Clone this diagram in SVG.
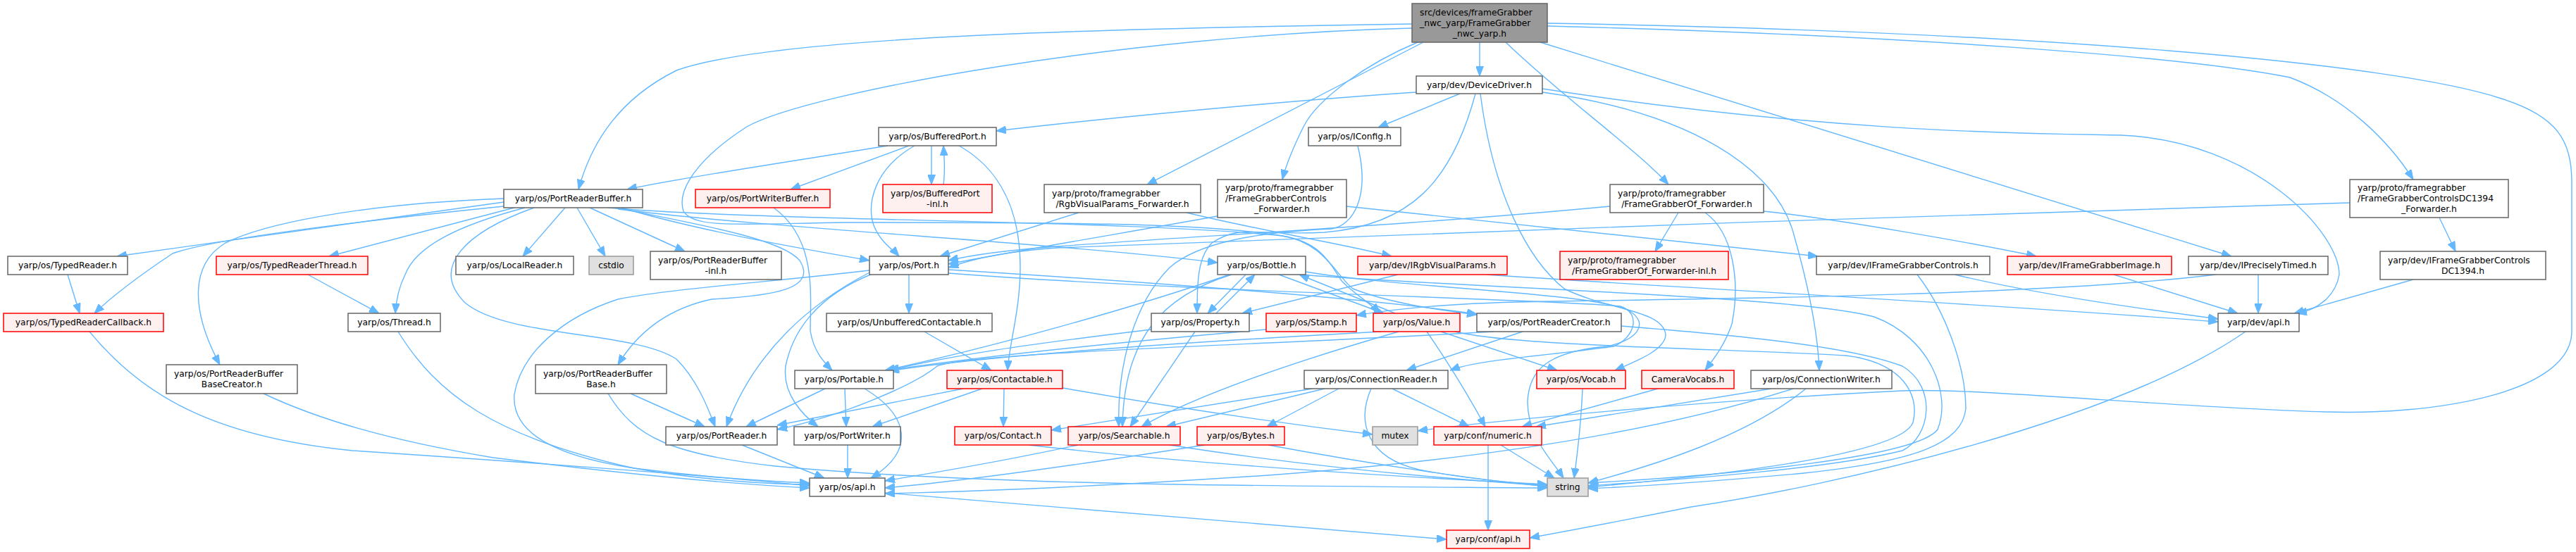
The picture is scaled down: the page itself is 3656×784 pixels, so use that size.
<svg xmlns="http://www.w3.org/2000/svg" width="3656" height="784" viewBox="0 0 3656 784">
<defs>
<marker id="arr" viewBox="0 0 14 11" refX="14" refY="5.5" markerWidth="14" markerHeight="11" markerUnits="userSpaceOnUse" orient="auto"><path d="M0,0 L14,5.5 L0,11 z" fill="#63B8FF" stroke="#63B8FF" stroke-width="1"/></marker>
</defs>
<style>
.node rect{fill:#ffffff;stroke:#666666;stroke-width:1.5}
.red rect{fill:#FFF0F0;stroke:#FF0000}
.ext rect{fill:#E0E0E0;stroke:#999999}
.root rect{fill:#999999;stroke:#666666}
text{font-family:"DejaVu Sans","Liberation Sans",sans-serif;font-size:12.3px;fill:#000000;text-anchor:middle}
text.l{text-anchor:start}
#edges path{fill:none;stroke:#63B8FF;stroke-width:1.4;marker-end:url(#arr)}
</style>
<rect width="3656" height="784" fill="#ffffff"/>
<g id="edges">
<path d="M2100,60 L2100,108"/>
<path d="M2004,34 C1600,40 1100,50 960,100 C880,140 840,200 821,269"/>
<path d="M2004,40 C1600,50 1150,130 1060,180 C990,225 960,270 970,300 C985,325 1050,318 1200,316 C1450,316 1700,315 1820,335 C1880,345 1890,380 1905,400 C1925,420 1945,430 1958,445"/>
<path d="M2020,60 L1628,262"/>
<path d="M2012,60 C1940,90 1870,140 1850,180 C1835,210 1825,235 1820,255"/>
<path d="M2137,60 C2220,140 2320,210 2368,262"/>
<path d="M2186,60 L3167,364"/>
<path d="M2196,37 C2700,50 3100,80 3250,110 C3330,140 3390,200 3425,255"/>
<path d="M2196,33 C2900,45 3400,90 3550,140 C3630,165 3650,200 3650,260 L3650,470 C3650,560 3450,590 3300,585 C3100,580 2800,550 2700,555 C2400,570 2100,600 2012,612"/>
<path d="M2072,133 L1956,181"/>
<path d="M2010,131 C1800,145 1550,170 1414,186"/>
<path d="M2094,133 C2060,260 2000,320 1880,330 C1780,335 1760,318 1720,345 C1700,365 1699,400 1699,445"/>
<path d="M2101,133 C2120,280 2170,370 2220,410 C2280,440 2360,440 2364,475 C2364,495 2330,510 2292,526"/>
<path d="M2189,126 C2600,190 2900,190 3010,192 C3200,200 3320,330 3320,390 C3315,420 3290,440 3260,445"/>
<path d="M2189,131 C2400,160 2520,240 2545,330 C2565,400 2580,470 2582,526"/>
<path d="M1260,207 C1150,225 950,255 890,269"/>
<path d="M1290,207 L1122,269"/>
<path d="M1298,207 C1240,240 1230,290 1240,320 C1250,345 1268,355 1276,364"/>
<path d="M1322,207 L1322,262"/>
<path d="M1339,262 C1342,240 1340,225 1339,207"/>
<path d="M1361,207 C1420,240 1448,300 1448,380 C1448,440 1432,490 1430,526"/>
<path d="M1098,295 C1160,340 1150,420 1150,470 C1155,500 1170,515 1181,526"/>
<path d="M715,287 L166,364"/>
<path d="M715,293 C500,315 300,340 245,360 C200,390 160,420 134,445"/>
<path d="M715,282 C500,290 370,320 320,345 C270,375 270,440 312,518"/>
<path d="M730,295 L467,364"/>
<path d="M745,295 C650,320 590,350 575,390 C565,410 562,430 561,445"/>
<path d="M802,295 L742,364"/>
<path d="M819,295 L859,364"/>
<path d="M837,295 L972,357"/>
<path d="M758,295 C660,330 610,380 660,430 C720,480 900,470 960,510 C990,540 1005,580 1015,606"/>
<path d="M873,295 C1000,320 1110,340 1135,370 C1160,410 1100,420 1010,425 C940,440 900,480 877,518"/>
<path d="M882,295 C1000,330 1150,355 1234,370"/>
<path d="M877,297 C1100,325 1500,345 1728,373"/>
<path d="M863,295 C1100,315 1600,312 1820,335 C1880,345 1895,390 1920,410 C1970,430 2040,440 2096,447"/>
<path d="M96,390 L113,445"/>
<path d="M437,390 L538,445"/>
<path d="M127,471 C200,560 300,620 500,640 C800,660 1000,675 1149,690"/>
<path d="M374,559 C450,595 550,625 700,650 C900,675 1050,688 1149,693"/>
<path d="M565,471 C620,560 700,620 900,665 C1000,683 1100,688 1149,688"/>
<path d="M895,559 L1000,606"/>
<path d="M863,559 C900,620 950,645 1100,662 C1400,690 1800,690 2196,693"/>
<path d="M1290,390 L1290,445"/>
<path d="M1238,389 C1160,420 1125,470 1115,520 C1110,560 1140,590 1161,606"/>
<path d="M1236,386 C1150,430 1070,500 1031,606"/>
<path d="M1234,384 C1100,400 950,410 877,425 C800,450 740,500 730,560 C725,620 800,650 900,665 C1000,678 1100,684 1149,686"/>
<path d="M1346,383 C1700,405 1950,425 2096,446"/>
<path d="M1346,388 C1700,415 2200,425 2300,435 C2330,445 2320,480 2290,492 C2200,505 2100,510 2058,526"/>
<path d="M1312,471 L1407,526"/>
<path d="M1171,552 L1059,606"/>
<path d="M1199,552 L1201,606"/>
<path d="M1227,552 C1290,590 1300,640 1236,679"/>
<path d="M1053,632 L1170,679"/>
<path d="M1203,632 L1203,679"/>
<path d="M1425,552 L1424,606"/>
<path d="M1394,552 L1238,606"/>
<path d="M1367,552 L1103,604"/>
<path d="M1508,551 C1700,585 1850,605 1948,617"/>
<path d="M1460,632 C1700,660 2000,678 2196,688"/>
<path d="M1530,632 C1400,660 1320,672 1256,683"/>
<path d="M1660,632 C1850,662 2050,680 2196,690"/>
<path d="M1710,632 C1500,665 1350,685 1256,693"/>
<path d="M1800,632 C1950,660 2100,682 2196,691"/>
<path d="M1256,700 C1600,730 1900,755 2053,766"/>
<path d="M1634,468 C1450,490 1350,505 1262,526"/>
<path d="M1696,471 L1604,606"/>
<path d="M1726,445 L1781,390"/>
<path d="M1768,390 L1714,445"/>
<path d="M1815,390 L1964,445"/>
<path d="M1980,445 L1844,390"/>
<path d="M1745,390 C1600,440 1400,495 1256,526"/>
<path d="M1748,390 C1650,420 1595,480 1593,606"/>
<path d="M1927,207 C1945,280 1920,320 1890,325 C1780,330 1700,345 1660,380 C1610,430 1585,520 1588,606"/>
<path d="M1985,471 C1850,510 1700,560 1620,606"/>
<path d="M1960,471 C1700,485 1400,505 1262,527"/>
<path d="M1797,468 C1600,485 1400,505 1260,526"/>
<path d="M2045,471 L2210,526"/>
<path d="M2025,471 C2045,500 2075,545 2108,606"/>
<path d="M1853,386 C2000,410 2250,415 2310,440 C2345,460 2320,485 2280,492 C2190,500 2170,530 2168,570 C2168,620 2200,650 2219,679"/>
<path d="M1845,390 C2100,410 2550,420 2660,450 C2740,480 2770,560 2750,610 C2720,650 2450,675 2254,686"/>
<path d="M2301,463 C2450,475 2620,490 2700,520 C2750,550 2740,620 2700,640 C2600,665 2400,680 2254,690"/>
<path d="M2065,471 C2150,492 2450,495 2620,505 C2700,515 2725,560 2715,600 C2700,640 2500,670 2254,692"/>
<path d="M2721,390 C2760,440 2790,520 2790,580 C2785,630 2720,655 2560,672 C2420,685 2300,692 2254,694"/>
<path d="M1984,390 L1763,445"/>
<path d="M2110,390 C2400,410 2800,430 3148,457"/>
<path d="M3145,390 C2900,420 2400,425 2200,428 C2050,430 1970,440 1925,448"/>
<path d="M2774,390 C2900,420 3050,440 3148,453"/>
<path d="M3000,390 L3176,445"/>
<path d="M3205,390 L3205,445"/>
<path d="M3425,397 L3256,445"/>
<path d="M2161,471 L1996,526"/>
<path d="M2120,471 C1800,490 1380,500 1330,520 C1300,545 1200,590 1103,610"/>
<path d="M1863,552 L1492,611"/>
<path d="M1880,552 L1655,606"/>
<path d="M1900,552 L1798,606"/>
<path d="M1976,552 L2085,606"/>
<path d="M1946,552 C1925,600 1940,650 2014,667 C2080,680 2150,686 2196,689"/>
<path d="M2246,552 C2244,600 2238,650 2234,679"/>
<path d="M2353,552 L2160,606"/>
<path d="M2514,552 L2180,606"/>
<path d="M2563,552 C2480,620 2350,660 2254,686"/>
<path d="M2545,552 C2300,630 2000,660 1800,675 C1500,695 1300,700 1256,701"/>
<path d="M2130,632 L2206,679"/>
<path d="M2112,632 L2112,753"/>
<path d="M3187,471 C3000,600 2600,690 2400,720 C2300,740 2220,755 2171,764"/>
<path d="M2382,302 L2349,357"/>
<path d="M2420,302 C2460,330 2470,400 2458,460 C2448,490 2432,510 2420,526"/>
<path d="M2503,300 C2600,310 2800,345 2890,364"/>
<path d="M2285,293 C2000,320 1700,335 1500,350 C1420,356 1380,362 1346,370"/>
<path d="M1728,307 C1600,330 1450,355 1346,375"/>
<path d="M1911,293 L2580,364"/>
<path d="M1531,302 L1334,364"/>
<path d="M1684,302 C1800,330 1900,345 1975,364"/>
<path d="M3335,288 C2800,305 2000,330 1500,352 C1420,358 1380,368 1346,380"/>
<path d="M3462,309 L3485,357"/>
</g>
<g id="n_root" class="node root"><rect x="2004" y="5" width="192" height="55"/><text class="l" x="2015" y="21.8">src/devices/frameGrabber</text><text class="l" x="2015" y="36.8">_nwc_yarp/FrameGrabber</text><text x="2100" y="51.8">_nwc_yarp.h</text></g>
<g id="n_devdriver" class="node"><rect x="2010" y="108" width="179" height="25"/><text x="2099.5" y="124.8">yarp/dev/DeviceDriver.h</text></g>
<g id="n_bufport" class="node"><rect x="1247" y="181" width="167" height="26"/><text x="1330.5" y="198.3">yarp/os/BufferedPort.h</text></g>
<g id="n_iconfig" class="node"><rect x="1857" y="181" width="131" height="26"/><text x="1922.5" y="198.3">yarp/os/IConfig.h</text></g>
<g id="n_prb" class="node"><rect x="715" y="269" width="197" height="26"/><text x="813.5" y="286.3">yarp/os/PortReaderBuffer.h</text></g>
<g id="n_pwb" class="node red"><rect x="987" y="269" width="191" height="26"/><text x="1082.5" y="286.3">yarp/os/PortWriterBuffer.h</text></g>
<g id="n_bpinl" class="node red"><rect x="1253" y="262" width="155" height="40"/><text class="l" x="1264" y="278.8">yarp/os/BufferedPort</text><text x="1330.5" y="293.8">-inl.h</text></g>
<g id="n_rgbfwd" class="node"><rect x="1482" y="262" width="222" height="40"/><text class="l" x="1493" y="278.8">yarp/proto/framegrabber</text><text x="1593" y="293.8">/RgbVisualParams_Forwarder.h</text></g>
<g id="n_fgcfwd" class="node"><rect x="1728" y="255" width="183" height="54"/><text class="l" x="1739" y="271.3">yarp/proto/framegrabber</text><text class="l" x="1739" y="286.3">/FrameGrabberControls</text><text x="1819.5" y="301.3">_Forwarder.h</text></g>
<g id="n_fgofwd" class="node"><rect x="2285" y="262" width="218" height="40"/><text class="l" x="2296" y="278.8">yarp/proto/framegrabber</text><text x="2394" y="293.8">/FrameGrabberOf_Forwarder.h</text></g>
<g id="n_dc1394fwd" class="node"><rect x="3335" y="255" width="225" height="54"/><text class="l" x="3346" y="271.3">yarp/proto/framegrabber</text><text class="l" x="3346" y="286.3">/FrameGrabberControlsDC1394</text><text x="3447.5" y="301.3">_Forwarder.h</text></g>
<g id="n_typedreader" class="node"><rect x="11" y="364" width="170" height="26"/><text x="96" y="381.3">yarp/os/TypedReader.h</text></g>
<g id="n_trthread" class="node red"><rect x="307" y="364" width="215" height="26"/><text x="414.5" y="381.3">yarp/os/TypedReaderThread.h</text></g>
<g id="n_localreader" class="node"><rect x="647" y="364" width="167" height="26"/><text x="730.5" y="381.3">yarp/os/LocalReader.h</text></g>
<g id="n_cstdio" class="node ext"><rect x="836" y="364" width="63" height="26"/><text x="867.5" y="381.3">cstdio</text></g>
<g id="n_prbinl" class="node"><rect x="923" y="357" width="186" height="40"/><text class="l" x="934" y="373.8">yarp/os/PortReaderBuffer</text><text x="1016" y="388.8">-inl.h</text></g>
<g id="n_port" class="node"><rect x="1234" y="364" width="112" height="26"/><text x="1290" y="381.3">yarp/os/Port.h</text></g>
<g id="n_bottle" class="node"><rect x="1728" y="364" width="125" height="26"/><text x="1790.5" y="381.3">yarp/os/Bottle.h</text></g>
<g id="n_irgb" class="node red"><rect x="1927" y="364" width="212" height="26"/><text x="2033" y="381.3">yarp/dev/IRgbVisualParams.h</text></g>
<g id="n_fgofinl" class="node red"><rect x="2214" y="357" width="239" height="40"/><text class="l" x="2225" y="373.8">yarp/proto/framegrabber</text><text x="2333.5" y="388.8">/FrameGrabberOf_Forwarder-inl.h</text></g>
<g id="n_ifgc" class="node"><rect x="2578" y="364" width="246" height="26"/><text x="2701" y="381.3">yarp/dev/IFrameGrabberControls.h</text></g>
<g id="n_ifgi" class="node red"><rect x="2849" y="364" width="233" height="26"/><text x="2965.5" y="381.3">yarp/dev/IFrameGrabberImage.h</text></g>
<g id="n_ipt" class="node"><rect x="3106" y="364" width="198" height="26"/><text x="3205" y="381.3">yarp/dev/IPreciselyTimed.h</text></g>
<g id="n_ifgcdc" class="node"><rect x="3378" y="357" width="235" height="40"/><text class="l" x="3389" y="373.8">yarp/dev/IFrameGrabberControls</text><text x="3495.5" y="388.8">DC1394.h</text></g>
<g id="n_trcb" class="node red"><rect x="5" y="445" width="227" height="26"/><text x="118.5" y="462.3">yarp/os/TypedReaderCallback.h</text></g>
<g id="n_thread" class="node"><rect x="494" y="445" width="131" height="26"/><text x="559.5" y="462.3">yarp/os/Thread.h</text></g>
<g id="n_unbuf" class="node"><rect x="1173" y="445" width="235" height="26"/><text x="1290.5" y="462.3">yarp/os/UnbufferedContactable.h</text></g>
<g id="n_property" class="node"><rect x="1634" y="445" width="139" height="26"/><text x="1703.5" y="462.3">yarp/os/Property.h</text></g>
<g id="n_stamp" class="node red"><rect x="1797" y="445" width="128" height="26"/><text x="1861" y="462.3">yarp/os/Stamp.h</text></g>
<g id="n_value" class="node red"><rect x="1949" y="445" width="123" height="26"/><text x="2010.5" y="462.3">yarp/os/Value.h</text></g>
<g id="n_prcreator" class="node"><rect x="2096" y="445" width="205" height="26"/><text x="2198.5" y="462.3">yarp/os/PortReaderCreator.h</text></g>
<g id="n_devapi" class="node"><rect x="3148" y="445" width="115" height="26"/><text x="3205.5" y="462.3">yarp/dev/api.h</text></g>
<g id="n_prbbc" class="node"><rect x="236" y="518" width="186" height="41"/><text class="l" x="247" y="535.3">yarp/os/PortReaderBuffer</text><text x="329" y="550.3">BaseCreator.h</text></g>
<g id="n_prbbase" class="node"><rect x="760" y="518" width="186" height="41"/><text class="l" x="771" y="535.3">yarp/os/PortReaderBuffer</text><text x="853" y="550.3">Base.h</text></g>
<g id="n_portable" class="node"><rect x="1128" y="526" width="140" height="26"/><text x="1198" y="543.3">yarp/os/Portable.h</text></g>
<g id="n_contactable" class="node red"><rect x="1344" y="526" width="164" height="26"/><text x="1426" y="543.3">yarp/os/Contactable.h</text></g>
<g id="n_connreader" class="node"><rect x="1851" y="526" width="204" height="26"/><text x="1953" y="543.3">yarp/os/ConnectionReader.h</text></g>
<g id="n_vocab" class="node red"><rect x="2181" y="526" width="126" height="26"/><text x="2244" y="543.3">yarp/os/Vocab.h</text></g>
<g id="n_camvocabs" class="node red"><rect x="2330" y="526" width="131" height="26"/><text x="2395.5" y="543.3">CameraVocabs.h</text></g>
<g id="n_connwriter" class="node"><rect x="2485" y="526" width="200" height="26"/><text x="2585" y="543.3">yarp/os/ConnectionWriter.h</text></g>
<g id="n_portreader" class="node"><rect x="945" y="606" width="158" height="26"/><text x="1024" y="623.3">yarp/os/PortReader.h</text></g>
<g id="n_portwriter" class="node"><rect x="1127" y="606" width="151" height="26"/><text x="1202.5" y="623.3">yarp/os/PortWriter.h</text></g>
<g id="n_contact" class="node red"><rect x="1355" y="606" width="137" height="26"/><text x="1423.5" y="623.3">yarp/os/Contact.h</text></g>
<g id="n_searchable" class="node red"><rect x="1516" y="606" width="159" height="26"/><text x="1595.5" y="623.3">yarp/os/Searchable.h</text></g>
<g id="n_bytes" class="node red"><rect x="1699" y="606" width="124" height="26"/><text x="1761" y="623.3">yarp/os/Bytes.h</text></g>
<g id="n_mutex" class="node ext"><rect x="1948" y="606" width="64" height="26"/><text x="1980" y="623.3">mutex</text></g>
<g id="n_numeric" class="node red"><rect x="2035" y="606" width="153" height="26"/><text x="2111.5" y="623.3">yarp/conf/numeric.h</text></g>
<g id="n_osapi" class="node"><rect x="1149" y="679" width="107" height="26"/><text x="1202.5" y="696.3">yarp/os/api.h</text></g>
<g id="n_string" class="node ext"><rect x="2196" y="679" width="58" height="26"/><text x="2225" y="696.3">string</text></g>
<g id="n_confapi" class="node red"><rect x="2053" y="753" width="118" height="26"/><text x="2112" y="770.3">yarp/conf/api.h</text></g>
</svg>
